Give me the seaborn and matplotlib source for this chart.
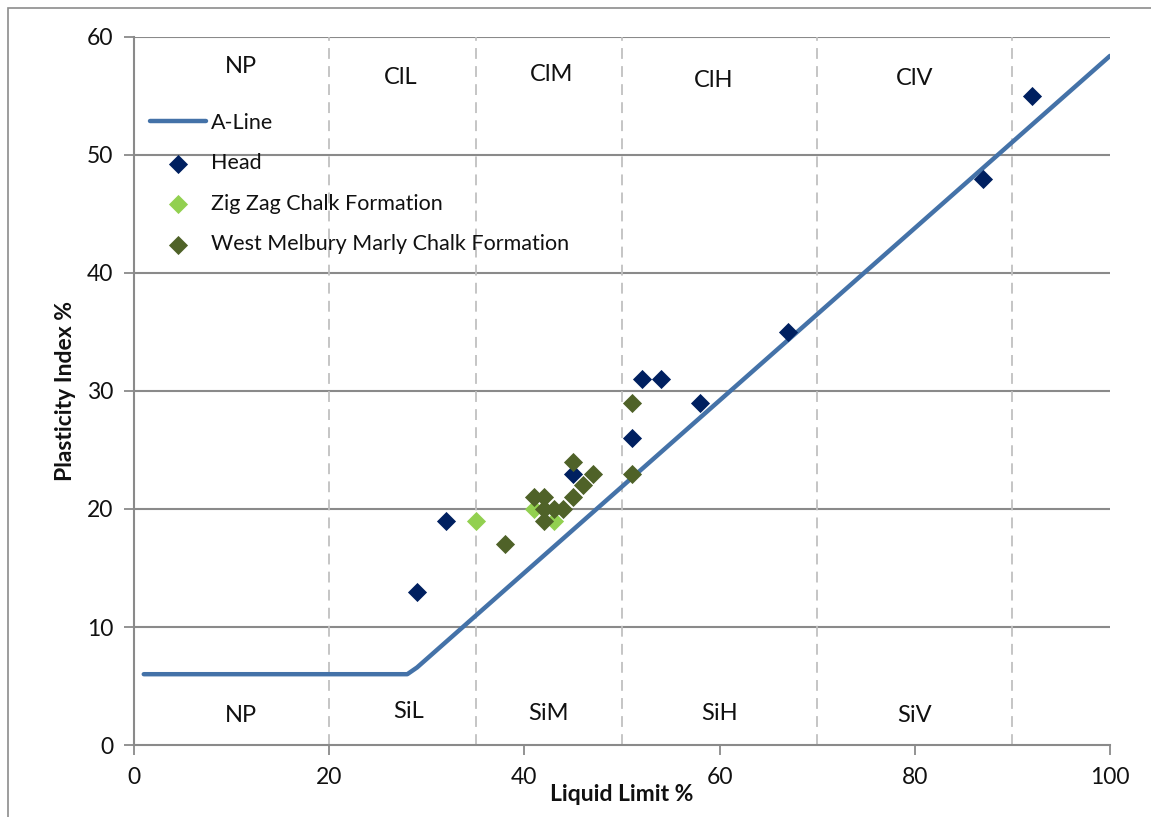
import matplotlib
matplotlib.use("Agg")
import matplotlib.pyplot as plt
from matplotlib.patches import Rectangle
import seaborn as sns
import pandas as pd

# A-Line (Casagrande plasticity chart)
aline_ll = [1, 28, 29, 100]
aline_pi = [6, 6, 6.57, 58.4]

# Test results
head_ll = [29, 32, 45, 51, 52, 54, 58, 67, 87, 92]
head_pi = [13, 19, 23, 26, 31, 31, 29, 35, 48, 55]

zigzag_ll = [35, 41, 43]
zigzag_pi = [19, 20, 19]

wm_ll = [38, 41, 42, 42, 43, 44, 42, 45, 46, 47, 45, 51, 51]
wm_pi = [17, 21, 21, 20, 20, 20, 19, 21, 22, 23, 24, 29, 23]

# Zone boundaries and labels
zone_bounds = [20, 35, 50, 70, 90]
clay_labels = ["NP", "ClL", "ClM", "ClH", "ClV"]
clay_pos = [(11, 57.5), (27.3, 56.6), (42.8, 56.8), (59.4, 56.3), (80, 56.5)]
silt_labels = ["NP", "SiL", "SiM", "SiH", "SiV"]
silt_pos = [(11, 2.5), (28.1, 2.8), (42.5, 2.7), (60, 2.7), (80, 2.5)]

sns.set_theme(style="white")
plt.rcParams["font.family"] = ["Lato", "DejaVu Sans"]

fig = plt.figure(figsize=(11.51, 8.17), dpi=100)
ax = fig.add_axes([134 / 1151, 1 - 745 / 817, 976 / 1151, 708 / 817])

# outer chart frame
fig.patches.append(Rectangle((8 / 1151, -0.05), 1.1, 1 - 8 / 817 + 0.05,
                             transform=fig.transFigure, fill=False,
                             edgecolor="#8c8c8c", linewidth=1.2, zorder=0))

grid_c = "#8a8a8a"
for y in range(10, 61, 10):
    ax.axhline(y, color=grid_c, lw=1.5, zorder=1)
for x in zone_bounds:
    ax.axvline(x, color="#c0c0c0", lw=1.3, dashes=(6, 4), zorder=1)

aline = pd.DataFrame({"LL": aline_ll, "PI": aline_pi})
sns.lineplot(data=aline, x="LL", y="PI", ax=ax, color="#4472a8", lw=3.2,
             label="A-Line", zorder=3, sort=False)

marker_kw = dict(marker="D", s=95, linewidth=0, zorder=4)
sns.scatterplot(x=head_ll, y=head_pi, ax=ax, color="#002060", label="Head", **marker_kw)
sns.scatterplot(x=zigzag_ll, y=zigzag_pi, ax=ax, color="#92d050",
                label="Zig Zag Chalk Formation", **marker_kw)
sns.scatterplot(x=wm_ll, y=wm_pi, ax=ax, color="#4f6228",
                label="West Melbury Marly Chalk Formation", **marker_kw)

for txt, (x, y) in zip(clay_labels, clay_pos):
    ax.text(x, y, txt, ha="center", va="center", fontsize=17, color="#111111")
for txt, (x, y) in zip(silt_labels, silt_pos):
    ax.text(x, y, txt, ha="center", va="center", fontsize=17, color="#111111")

ax.set_xlim(0, 100)
ax.set_ylim(0, 60)
ax.set_xticks(range(0, 101, 20))
ax.set_yticks(range(0, 61, 10))
ax.tick_params(axis="both", which="major", labelsize=16.5, length=7, width=1.3,
               color=grid_c, direction="out", left=True, bottom=True,
               labelcolor="#111111", pad=8)
ax.tick_params(axis="x", pad=9)
for side in ["top", "right"]:
    ax.spines[side].set_visible(False)
for side in ["left", "bottom"]:
    ax.spines[side].set_color(grid_c)
    ax.spines[side].set_linewidth(1.5)

ax.set_xlabel("Liquid Limit %", fontsize=16.5, fontweight="bold", labelpad=-3, color="#111111")
ax.set_ylabel("Plasticity Index %", fontsize=16.5, fontweight="bold", labelpad=8, color="#111111")

leg = ax.legend(loc="upper left", bbox_to_anchor=(0.008, 0.905), frameon=False,
                fontsize=15.5, handlelength=2.6, handletextpad=0.2, labelspacing=0.95,
                borderaxespad=0)
for t in leg.get_texts():
    t.set_color("#111111")

fig.savefig("out.png", dpi=100)
